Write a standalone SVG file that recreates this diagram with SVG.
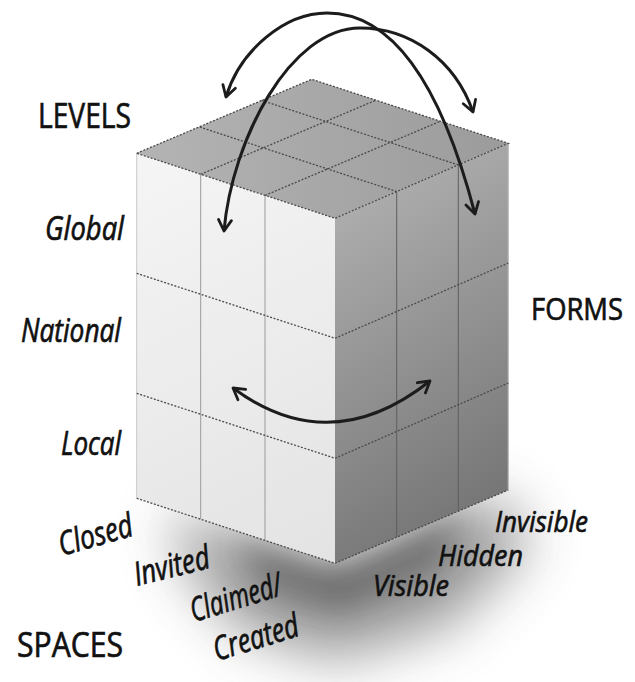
<svg xmlns="http://www.w3.org/2000/svg" width="635" height="682" viewBox="0 0 635 682">
<defs>
<style>
.lbl{font-family:"Open Sans","Liberation Sans",sans-serif;font-style:italic;fill:#111;stroke:#111;stroke-width:0.7;font-size:33px}
.sm{font-size:30px}
.cap{font-family:"Open Sans","Liberation Sans",sans-serif;fill:#111;stroke:#111;stroke-width:0.7;font-size:34px}
.dash{fill:none;stroke:#4a4a4a;stroke-width:1.3;stroke-dasharray:2 1.6}
.col{fill:none;stroke:#9a9a9a;stroke-width:1}
.colr{fill:none;stroke:#5e5e5e;stroke-width:1}
.arc{fill:none;stroke:#1c1c1c;stroke-width:3;marker-start:url(#ah);marker-end:url(#ah)}
</style>
<marker id="ah" markerUnits="userSpaceOnUse" markerWidth="18" markerHeight="18" viewBox="0 0 18 18" refX="15" refY="9" orient="auto-start-reverse">
<path d="M4,2.5 L15,9 L4,15.5" fill="none" stroke="#1c1c1c" stroke-width="2.8" stroke-linecap="round" stroke-linejoin="round"/>
</marker>
<linearGradient id="gLeft" gradientUnits="userSpaceOnUse" x1="136" y1="150" x2="335" y2="560">
<stop offset="0" stop-color="#f5f5f5"/><stop offset="1" stop-color="#e3e3e3"/>
</linearGradient>
<linearGradient id="gRight" gradientUnits="userSpaceOnUse" x1="335" y1="220" x2="508" y2="490">
<stop offset="0" stop-color="#acacac"/><stop offset="1" stop-color="#767676"/>
</linearGradient>
<linearGradient id="gTop" gradientUnits="userSpaceOnUse" x1="137" y1="153" x2="508" y2="143">
<stop offset="0" stop-color="#b4b4b4"/><stop offset="1" stop-color="#9b9b9b"/>
</linearGradient>
<filter id="blur" x="-60%" y="-60%" width="220%" height="220%">
<feGaussianBlur stdDeviation="28"/>
</filter>
<filter id="blur2" x="-60%" y="-60%" width="220%" height="220%">
<feGaussianBlur stdDeviation="16"/>
</filter>
</defs>
<rect width="635" height="682" fill="#ffffff"/>

<g id="shadow">
<polygon points="170,510 335,566 500,495 530,545 450,625 335,660 240,630 185,565" fill="#555" opacity="0.6" filter="url(#blur)"/>
<polygon points="230,535 335,568 470,505 440,565 340,610 265,585" fill="#333" opacity="0.5" filter="url(#blur2)"/>
</g>

<g id="cube">
<polygon points="136.7,153.3 335,218.3 335,563.3 136.7,498.3" fill="url(#gLeft)"/>
<polygon points="335,218.3 508.3,143.3 508.3,490 335,563.3" fill="url(#gRight)"/>
<polygon points="136.7,153.3 311.7,79.3 508.3,143.3 335,218.3" fill="url(#gTop)"/>
<line x1="136.7" y1="153.3" x2="136.7" y2="498.3" stroke="#c8c8c8" stroke-width="1"/>
<line x1="508.3" y1="143.3" x2="508.3" y2="490" stroke="#bdbdbd" stroke-width="1.2"/>
<line class="col" x1="200.7" y1="174.3" x2="200.7" y2="519.3"/>
<line class="col" x1="265" y1="195.4" x2="265" y2="540.4"/>
<line class="colr" x1="396.7" y1="191.6" x2="396.7" y2="537.3"/>
<line class="colr" x1="458.3" y1="164.9" x2="458.3" y2="511.3"/>
<path class="dash" d="M136.7,153.3 L311.7,79.3 L508.3,143.3 L335,218.3 Z"/>
<path class="dash" d="M200.7,174.3 L375.7,100.3 M265,195.4 L440,121.4 M396.7,191.6 L198.4,126.6 M458.3,164.9 L260,99.9"/>
<path class="dash" d="M136.7,273.3 L335,338.3 L508.3,263 M136.7,393.3 L335,458.3 L508.3,383"/>
<path class="dash" d="M136.7,498.3 L335,563.3 L508.3,490"/>
</g>

<g id="connectors">
<path class="arc" d="M226,97 C240,50 285,13 327,13 C390,13 440,80 475,214"/>
<path class="arc" d="M224,231 C232,140 290,28 360,28 C410,28 455,60 473,112"/>
<path class="arc" d="M233,388 Q330,460 430,381"/>
</g>

<g id="label-levels"><text class="cap" x="38" y="128" textLength="93" lengthAdjust="spacingAndGlyphs">LEVELS</text></g>
<g id="label-forms"><text class="cap" x="531" y="320" style="font-size:31px" textLength="92" lengthAdjust="spacingAndGlyphs">FORMS</text></g>
<g id="label-spaces"><text class="cap" x="17" y="657" textLength="106" lengthAdjust="spacingAndGlyphs">SPACES</text></g>
<g id="label-global"><text class="lbl" x="45" y="240" textLength="79" lengthAdjust="spacingAndGlyphs">Global</text></g>
<g id="label-national"><text class="lbl" x="21" y="342" textLength="100" lengthAdjust="spacingAndGlyphs">National</text></g>
<g id="label-local"><text class="lbl" x="61" y="455" textLength="60" lengthAdjust="spacingAndGlyphs">Local</text></g>
<g id="label-closed"><text class="lbl" transform="translate(62,556) rotate(-16)" textLength="76" lengthAdjust="spacingAndGlyphs">Closed</text></g>
<g id="label-invited"><text class="lbl" transform="translate(137,586) rotate(-14)" textLength="77" lengthAdjust="spacingAndGlyphs">Invited</text></g>
<g id="label-claimed"><text class="lbl" transform="translate(194,622) rotate(-17)" textLength="94" lengthAdjust="spacingAndGlyphs">Claimed/</text></g>
<g id="label-created"><text class="lbl" transform="translate(217,661) rotate(-17)" textLength="88" lengthAdjust="spacingAndGlyphs">Created</text></g>
<g id="label-visible"><text class="lbl sm" x="373" y="596" textLength="76" lengthAdjust="spacingAndGlyphs">Visible</text></g>
<g id="label-hidden"><text class="lbl sm" x="438" y="566" textLength="85" lengthAdjust="spacingAndGlyphs">Hidden</text></g>
<g id="label-invisible"><text class="lbl sm" x="495" y="532" textLength="93" lengthAdjust="spacingAndGlyphs">Invisible</text></g>
</svg>
